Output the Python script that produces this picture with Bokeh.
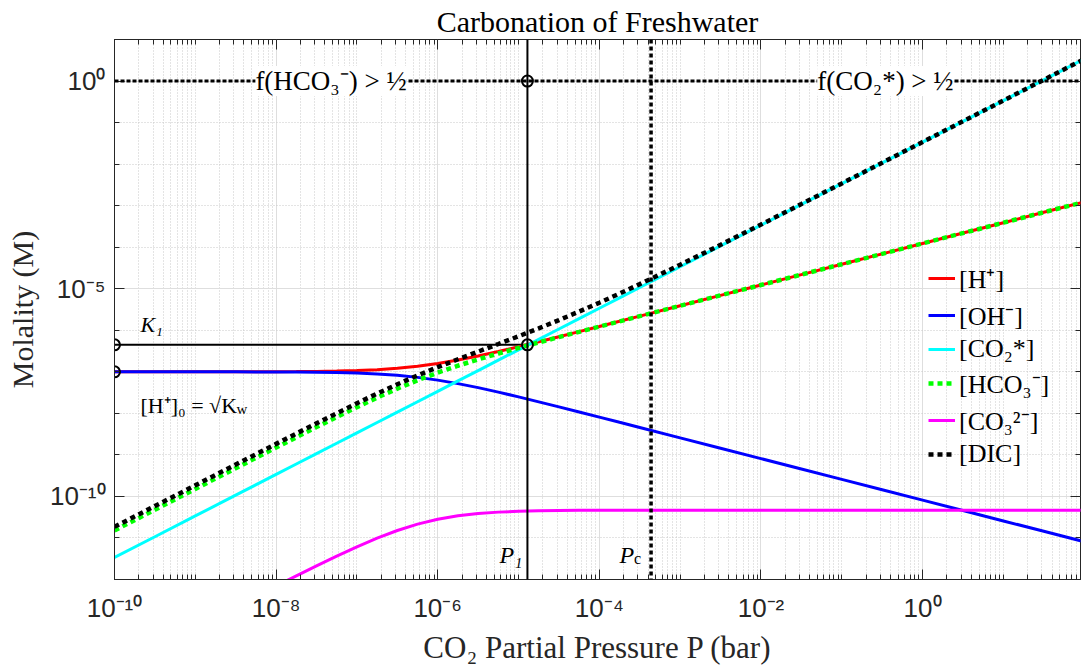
import numpy as np
from bokeh.plotting import figure
from bokeh.models import (FixedTicker, LogAxis, Legend, LegendItem, Label, Span,
                          Range1d, CustomJSTickFormatter, ColumnDataSource)
from bokeh.embed import file_html
from bokeh.resources import INLINE

# CO2 partial pressure, log10(bar)
log_p = [-10, -9.5, -9, -8.5, -8, -7.75, -7.5, -7.25, -7, -6.75, -6.5, -6.25, -6,
         -5.75, -5.5, -5.25, -5, -4.75, -4.5, -4.25, -4, -3.75, -3.5, -3, -2.5, -2,
         -1.5, -1, -0.5, 0, 0.5, 1, 1.5, 2]

# Species molalities, log10(M)
log_h = [-7.000, -7.000, -7.000, -6.999, -6.997, -6.994, -6.990, -6.982, -6.969, -6.948,
         -6.915, -6.866, -6.800, -6.716, -6.619, -6.511, -6.396, -6.277, -6.156, -6.033,
         -5.909, -5.784, -5.660, -5.410, -5.160, -4.910, -4.660, -4.410, -4.160, -3.910,
         -3.660, -3.410, -3.160, -2.910]
log_oh = [-7.000, -7.000, -7.000, -7.001, -7.003, -7.006, -7.010, -7.018, -7.031, -7.052,
          -7.085, -7.134, -7.200, -7.284, -7.381, -7.489, -7.604, -7.723, -7.844, -7.967,
          -8.091, -8.216, -8.340, -8.590, -8.840, -9.090, -9.340, -9.590, -9.840, -10.090,
          -10.340, -10.590, -10.840, -11.090]
log_co2 = [-11.47, -10.97, -10.47, -9.97, -9.47, -9.22, -8.97, -8.72, -8.47, -8.22,
           -7.97, -7.72, -7.47, -7.22, -6.97, -6.72, -6.47, -6.22, -5.97, -5.72,
           -5.47, -5.22, -4.97, -4.47, -3.97, -3.47, -2.97, -2.47, -1.97, -1.47,
           -0.97, -0.47, 0.03, 0.53]
log_hco3 = [-10.820, -10.320, -9.820, -9.321, -8.823, -8.576, -8.330, -8.088, -7.851, -7.622,
            -7.405, -7.204, -7.020, -6.854, -6.701, -6.559, -6.424, -6.293, -6.164, -6.038,
            -5.911, -5.786, -5.660, -5.410, -5.160, -4.910, -4.660, -4.410, -4.160, -3.910,
            -3.660, -3.410, -3.160, -2.910]
log_co3 = [-14.150, -13.650, -13.150, -12.652, -12.156, -11.912, -11.670, -11.435, -11.212, -11.004,
           -10.820, -10.667, -10.550, -10.467, -10.412, -10.378, -10.358, -10.346, -10.338, -10.335,
           -10.332, -10.332, -10.331, -10.330, -10.330, -10.330, -10.330, -10.330, -10.330, -10.330,
           -10.330, -10.330, -10.330, -10.330]
log_dic = [-10.732, -10.232, -9.733, -9.233, -8.735, -8.487, -8.240, -7.997, -7.757, -7.524,
           -7.300, -7.088, -6.888, -6.698, -6.514, -6.331, -6.145, -5.954, -5.755, -5.549,
           -5.336, -5.116, -4.889, -4.423, -3.943, -3.455, -2.961, -2.465, -1.967, -1.468,
           -0.969, -0.470, 0.030, 0.530]

# Reference levels, log10
log_k1 = -6.35      # first dissociation constant
log_h0 = -7.0       # [H+]0 = sqrt(Kw)
log_p1 = -4.89      # pressure where [CO2*] = K1
log_pc = -3.36      # critical pressure

x_lo, x_hi = 1e-10, 90.0
y_lo, y_hi = 1e-12, 1e1

x_major = [1e-10, 1e-8, 1e-6, 1e-4, 1e-2, 1e0]
y_major = [1e-10, 1e-5, 1e0]

AX = "#262626"
SERIF = "Liberation Serif"

src = ColumnDataSource(dict(
    p=10 ** np.array(log_p), h=10 ** np.array(log_h), oh=10 ** np.array(log_oh),
    co2=10 ** np.array(log_co2), hco3=10 ** np.array(log_hco3),
    co3=10 ** np.array(log_co3), dic=10 ** np.array(log_dic)))

p = figure(width=1081, height=672, x_axis_type="log", y_axis_type="log",
           x_range=Range1d(x_lo, x_hi), y_range=Range1d(y_lo, y_hi),
           output_backend="svg", toolbar_location=None,
           min_border_left=114, min_border_right=1, min_border_top=39, min_border_bottom=93)

# ticks
x_minor = [k * 10.0 ** e for e in range(-10, 2) for k in range(1, 10)]
y_minor = [10.0 ** e for e in range(-12, 2)]
xt = FixedTicker(ticks=x_major, minor_ticks=x_minor)
yt = FixedTicker(ticks=y_major, minor_ticks=y_minor)

fmt = CustomJSTickFormatter(code="""
const sup = {"-": "\u207b", "0": "\u2070", "1": "\u00b9", "2": "\u00b2", "3": "\u00b3",
             "4": "\u2074", "5": "\u2075", "6": "\u2076", "7": "\u2077", "8": "\u2078", "9": "\u2079"};
const e = Math.round(Math.log10(tick));
return "10" + String(e).split("").map(c => sup[c]).join("");
""")

for ax, tk in ((p.xaxis[0], xt), (p.yaxis[0], yt)):
    ax.ticker = tk
    ax.formatter = fmt
    ax.major_tick_in = 10
    ax.major_tick_out = 0
    ax.minor_tick_in = 5
    ax.minor_tick_out = 0
    ax.axis_line_color = AX
    ax.major_tick_line_color = AX
    ax.minor_tick_line_color = AX
    ax.major_label_text_font = "Liberation Sans"
    ax.major_label_text_font_size = "26px"
    ax.major_label_text_color = AX
    ax.axis_label_text_font = SERIF
    ax.axis_label_text_font_style = "normal"
    ax.axis_label_text_color = AX

p.xaxis.axis_label = "CO\u2082 Partial Pressure P (bar)"
p.yaxis.axis_label = "Molality (M)"
p.xaxis.axis_label_text_font_size = "31px"
p.yaxis.axis_label_text_font_size = "30px"
p.xaxis.major_label_standoff = 13
p.yaxis.major_label_standoff = 9
p.xaxis.axis_label_standoff = 4
p.yaxis.axis_label_standoff = 8

# tick marks on the opposite sides of the box (labels hidden)
for side, tk in (("right", yt), ("above", xt)):
    ax2 = LogAxis(ticker=tk, major_label_text_font_size="1px", major_label_text_color=None,
                  major_label_standoff=0,
                  major_tick_in=10, major_tick_out=0, minor_tick_in=5, minor_tick_out=0,
                  major_tick_line_color=AX, minor_tick_line_color=AX, axis_line_color=None)
    p.add_layout(ax2, side)

p.outline_line_color = AX
p.outline_line_width = 1

for g in (p.xgrid[0], p.ygrid[0]):
    g.grid_line_color = "#dedede"
    g.minor_grid_line_color = "#c8c8c8"
    g.minor_grid_line_dash = "1 2"
    g.minor_grid_line_width = 1

p.title.text = "Carbonation of Freshwater"
p.title.align = "center"
p.title.text_font = SERIF
p.title.text_font_size = "30px"
p.title.text_font_style = "normal"
p.title.text_color = "black"
p.title.standoff = 4

# reference lines
p.add_layout(Span(location=1.0, dimension="width", line_color="black",
                  line_width=3, line_dash="4 2"))
p.add_layout(Span(location=10 ** log_p1, dimension="height", line_color="black",
                  line_width=2))
p.add_layout(Span(location=10 ** log_pc, dimension="height", line_color="black",
                  line_width=3.5, line_dash="4 3"))
p.line([x_lo, 10 ** log_p1], [10 ** log_k1, 10 ** log_k1], line_color="black", line_width=2)

# species curves
r_h = p.line("p", "h", source=src, line_color="#ff0000", line_width=3)
r_oh = p.line("p", "oh", source=src, line_color="#0000ff", line_width=3)
r_co2 = p.line("p", "co2", source=src, line_color="#00ffff", line_width=3)
r_hco3 = p.line("p", "hco3", source=src, line_color="#00ff00", line_width=4.5, line_dash="5 4")
r_co3 = p.line("p", "co3", source=src, line_color="#ff00ff", line_width=3)
r_dic = p.line("p", "dic", source=src, line_color="black", line_width=4.5, line_dash="5 4")

# marker circles
p.scatter([x_lo, x_lo, 10 ** log_p1, 10 ** log_p1],
          [10 ** log_k1, 10 ** log_h0, 10 ** log_k1, 1.0],
          marker="circle", size=11, fill_alpha=0, line_color="black", line_width=2)

# annotations
def note(x, y, text, size, align="left", baseline="alphabetic", style="normal",
         dx=0, dy=0, bg=None):
    lab = Label(x=x, y=y, text=text, text_font=SERIF, text_font_size=size,
                text_align=align, text_baseline=baseline, text_font_style=style,
                x_offset=dx, y_offset=dy, text_color="black")
    if bg is not None:
        lab.background_fill_color = bg
    p.add_layout(lab)

note(x_lo, 10 ** log_k1, "K\u2081", "22px", style="italic", dx=26, dy=20)
note(x_lo, 10 ** log_h0, "[H\u207a]\u2080 = \u221aK", "22px", dx=26, dy=-34)
note(x_lo, 10 ** log_h0, "w", "15px", dx=122, dy=-37)
note(10 ** log_p1, y_lo, "P\u2081", "24px", align="right", style="italic", dx=-5, dy=25)
note(10 ** log_pc, y_lo, "P", "24px", align="right", style="italic", dx=-17, dy=25)
note(10 ** log_pc, y_lo, "c", "16px", align="left", dx=-17, dy=21)
note(10 ** -7.32, 1.0, "f(HCO\u2083\u207b) > \u00bd", "27px", align="center",
     baseline="middle", bg="white")
note(10 ** -0.46, 1.0, "f(CO\u2082*) > \u00bd", "27px", align="center",
     baseline="middle", bg="white")

legend = Legend(items=[
    LegendItem(label="[H\u207a]", renderers=[r_h]),
    LegendItem(label="[OH\u207b]", renderers=[r_oh]),
    LegendItem(label="[CO\u2082*]", renderers=[r_co2]),
    LegendItem(label="[HCO\u2083\u207b]", renderers=[r_hco3]),
    LegendItem(label="[CO\u2083\u00b2\u207b]", renderers=[r_co3]),
    LegendItem(label="[DIC]", renderers=[r_dic]),
], location=(804, 100), background_fill_alpha=0, border_line_alpha=0,
    label_text_font=SERIF, label_text_font_size="26px", label_text_color="black",
    glyph_width=27, glyph_height=20, label_height=28, spacing=1, padding=10,
    margin=0, label_standoff=4)
p.add_layout(legend)

open("out.html", "w").write(file_html(p, INLINE))
